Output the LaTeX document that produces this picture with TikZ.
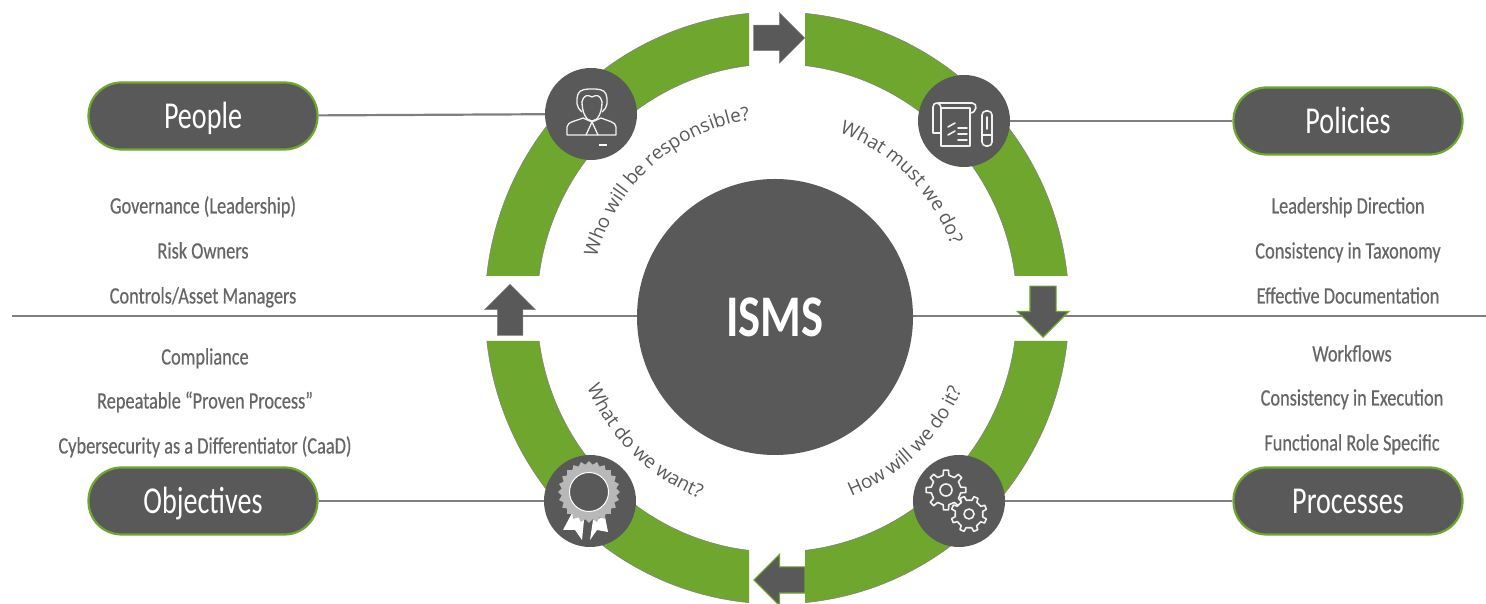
\documentclass[tikz,border=0pt]{standalone}
\usepackage{fontspec}
\setmainfont[FakeStretch=0.74]{Carlito}
\newfontfamily\itemfont[FakeStretch=0.78,FakeBold=0.5]{Carlito}
\newfontfamily\hubfont[FakeStretch=0.79]{Carlito}
\newfontfamily\curvefont{Open Sans}
\usetikzlibrary{shapes.arrows,shapes.geometric,decorations.text}
\definecolor{ringgreen}{HTML}{6FA72E}
\definecolor{hubgray}{HTML}{595959}
\definecolor{wiregray}{HTML}{7F7F7F}
\definecolor{textgray}{HTML}{666666}
\tikzset{hub/.style = {circle, fill=hubgray, inner sep=0pt, minimum size=276pt, text=white, font=\hubfont\fontsize{59}{59}\selectfont\bfseries},
         iconcirc/.style = {circle, fill=hubgray, inner sep=0pt, minimum size=92pt},
         pill/.style = {draw=ringgreen, line width=2.2pt, fill=hubgray, rounded corners=33pt, minimum width=229pt, minimum height=67pt, text=white, text height=25pt, text depth=0pt, font=\fontsize{38}{38}\selectfont},
         item/.style = {text=textgray, inner sep=0pt, text height=15pt, text depth=0pt, font=\itemfont\fontsize{23.5}{23.5}\selectfont},
         wire/.style = {draw=wiregray, line width=2.2pt},
         flow/.style = {single arrow, fill=hubgray, draw=gray, line width=0.5pt, anchor=tip, inner xsep=0pt, inner ysep=12.5pt, single arrow head extend=12.5pt, single arrow head indent=0pt, minimum height=51pt},
         greenflow/.style = {flow, draw=ringgreen, line width=1.2pt},
         icon/.style = {draw=white!95!black, line width=1.6pt, line join=round, line cap=round},
         curved/.style = {decorate, decoration={text along path, text align=center, text color=hubgray, text={|\curvefont\fontsize{19}{19}\selectfont|#1}}}}
\begin{document}
\begin{tikzpicture}[x=1pt,y=1pt]
        \useasboundingbox (0,0) rectangle (1486,604);
        % the line through the middle
        \coordinate (wl) at (12,288);
        \coordinate (wr) at (1486,288);
        \draw[wire](wl)--(wr);

        % ring
        \begin{scope}
            \clip (480,328) rectangle (749,604) (805,328) rectangle (1075,604)
                  (480,263) rectangle (749,0) (805,263) rectangle (1075,0);
            \path[fill=ringgreen,draw=gray,line width=0.5pt,even odd rule]
                (777,296) ellipse [x radius=292, y radius=296]
                (777,296) ellipse [x radius=240, y radius=244];
        \end{scope}

        % arrows between the ring parts
        \node[flow,rotate=0](atop)at(805,566){};
        \node[greenflow,rotate=-90](aright)at(1043,266){};
        \node[greenflow,rotate=180](abottom)at(753,24){};
        \node[flow,rotate=90](aleft)at(510,320){};

        \node[hub](isms)at(775,287){ISMS};
        \node[iconcirc](cpeople)at(591,490){};
        \node[iconcirc](cpolicies)at(964,483){};
        \node[iconcirc](cobjectives)at(590,103){};
        \node[iconcirc](cprocesses)at(959,103){};

        \node[pill](people)at(203,488){People};
        \node[pill](policies)at(1348,483){Policies};
        \node[pill](objectives)at(203,103){Objectives};
        \node[pill](processes)at(1348,103){Processes};
        \draw[wire](people)--(cpeople);
        \draw[wire](policies)--(cpolicies);
        \draw[wire](objectives)--(cobjectives);
        \draw[wire](processes)--(cprocesses);

        \node[item](p1)at(203,398){Governance (Leadership)};
        \node[item](p2)at(203,353){Risk Owners};
        \node[item](p3)at(203,308){Controls/Asset Managers};
        \node[item](o1)at(205,247){Compliance};
        \node[item](o2)at(205,203){Repeatable “Proven Process”};
        \node[item](o3)at(205,158){Cybersecurity as a Differentiator (CaaD)};
        \node[item](l1)at(1348,398){Leadership Direction};
        \node[item](l2)at(1348,353){Consistency in Taxonomy};
        \node[item](l3)at(1348,308){Effective Documentation};
        \node[item](r1)at(1352,250){Workflows};
        \node[item](r2)at(1352,206){Consistency in Execution};
        \node[item](r3)at(1352,161){Functional Role Specific};

        % questions, the path sets the reading direction
        \path[curved={Who will be responsible?}](777,300)++(177:186) arc[start angle=177, end angle=87, radius=186];
        \path[curved={What must we do?}](776,296)++(90:186) arc[start angle=90, end angle=0, radius=186];
        \path[curved={How will we do it?}](776,296)++(-91:203) arc[start angle=-91, end angle=-1, radius=203];
        \path[curved={What do we want?}](776,296)++(-180:205) arc[start angle=-180, end angle=-89, radius=205];

        % person
        \begin{scope}[shift={(cpeople)},icon/.append style={line width=1.3pt}]
            \draw[icon](-9,12)..controls(-9,2)and(-5,-7)..(1,-7)..controls(7,-7)and(11,2)..(11,12);
            \draw[icon](-9,12)..controls(-7,20)and(-3,19)..(1,17)..controls(5,19)and(9,20)..(11,12);
            \draw[icon](-9,2)..controls(-15,6)and(-15,14)..(-13,20)..controls(-11,25)and(-4,25)..(1,25)..controls(6,25)and(13,25)..(15,20)..controls(17,14)and(17,6)..(11,2);
            \draw[icon](-24,-21)--(-24,-13)..controls(-24,-8)and(-15,-7)..(-8,-4)--(1,-8)--(10,-4)..controls(17,-7)and(25,-8)..(25,-13)--(25,-21)--cycle;
            \draw[icon](1,-8)--(-5,-21)(1,-8)--(7,-21);
            \fill[white](8,-32)rectangle(16,-30);
        \end{scope}

        % papers and pen
        \begin{scope}[shift={(cpolicies)}]
            \draw[icon](-23,-25)rectangle(6,13);
            \draw[icon](-23,-12)--(-31,-12)--(-31,14)..controls(-31,19)and(-24,20)..(-23,13);
            \draw[icon](-26,18)--(8,18)..controls(14,18)and(13,8)..(6,8);
            \draw[icon](-16,-6)--(-9,-2)(-16,-14)--(-9,-10);
            \draw[icon](-6,-7)--(3,-7)(-6,-13)--(3,-13)(-6,-19)--(3,-19);
            \draw[icon,rounded corners=4pt](18,-25)rectangle(28,10);
            \draw[icon](18,-14)--(28,-14)(23,-8)--(23,4);
        \end{scope}

        % rosette
        \begin{scope}[shift={(cobjectives)}]
            \fill[white](-27,-29)--(-18,-12)--(-6,-19)--(-8,-39)--(-15,-29)--cycle;
            \fill[white](0,-39)--(3,-19)--(15,-16)--(18,-31)--(7,-29)--cycle;
            \node[star,star points=24,star point ratio=1.13,fill=white!72!black,inner sep=0pt,minimum size=62pt](seal)at(-1,9){};
            \node[circle,draw=white,fill=hubgray,line width=1pt,inner sep=0pt,minimum size=39pt](sealin)at(-1,9){};
        \end{scope}

        % gears
        \begin{scope}[shift={(cprocesses)}]
            \begin{scope}[shift={(-13,11)}]
                \draw[icon](-11:15)\foreach \a in {0,45,...,315}{--(\a-11:15)--(\a-7:20)--(\a+7:20)--(\a+11:15)}--cycle;
                \draw[icon](0,0)circle(6);
            \end{scope}
            \begin{scope}[shift={(10,-13)}]
                \draw[icon,fill=hubgray](10:14)\foreach \a in {22,67,...,337}{--(\a-11:14)--(\a-7:18)--(\a+7:18)--(\a+11:14)}--cycle;
                \draw[icon](0,0)circle(5);
            \end{scope}
        \end{scope}
    \end{tikzpicture}
\end{document}
